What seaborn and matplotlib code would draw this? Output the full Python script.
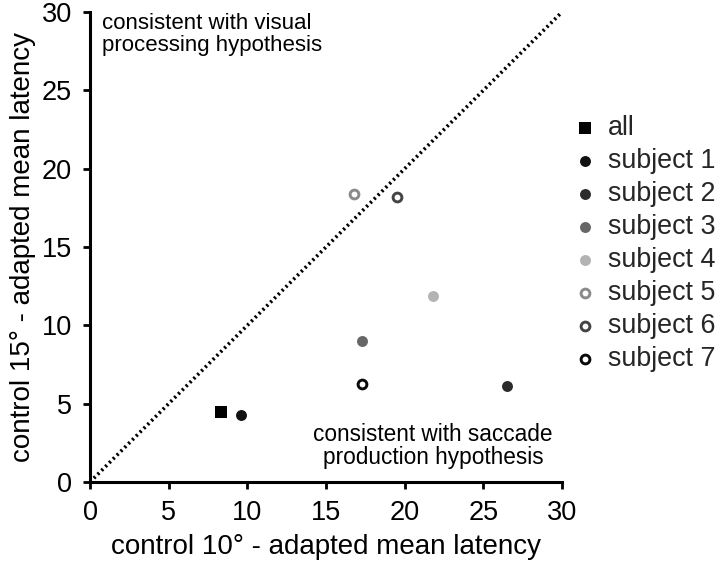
import matplotlib
matplotlib.use("Agg")
import matplotlib.pyplot as plt
import seaborn as sns
import pandas as pd

sns.set_theme(style="ticks")
plt.rcParams["font.family"] = ["Liberation Sans", "DejaVu Sans"]

labels = ["all", "subject 1", "subject 2", "subject 3", "subject 4",
          "subject 5", "subject 6", "subject 7"]
x_vals = [8.3, 9.6, 26.5, 17.3, 21.8, 16.8, 19.5, 17.3]
y_vals = [4.45, 4.25, 6.1, 9.0, 11.85, 18.4, 18.2, 6.25]
colors = ["#000000", "#111111", "#2b2b2b", "#666666", "#b3b3b3",
          "#8a8a8a", "#444444", "#0a0a0a"]
filled = [True, True, True, True, True, False, False, False]
markers = ["s", "o", "o", "o", "o", "o", "o", "o"]

diag = [0, 30]
ticks = [0, 5, 10, 15, 20, 25, 30]

df = pd.DataFrame({"x": x_vals, "y": y_vals, "label": labels})

fig = plt.figure(figsize=(7.2, 5.66), dpi=100)
ax = fig.add_axes([0.125, 0.1484, 0.6556, 0.8304])

sns.lineplot(x=diag, y=diag, ax=ax, color="black", linestyle=(0, (0.6, 0.9)),
             linewidth=2.6, legend=False)

for i, row in df.iterrows():
    if filled[i]:
        sns.scatterplot(data=df.iloc[[i]], x="x", y="y", ax=ax, marker=markers[i],
                        s=62 if markers[i] == "o" else 72, color=colors[i],
                        edgecolor=colors[i], linewidth=0, label=row["label"], zorder=3)
    else:
        sns.scatterplot(data=df.iloc[[i]], x="x", y="y", ax=ax, marker="o",
                        s=40, facecolor="white", edgecolor=colors[i],
                        linewidth=2.1, label=row["label"], zorder=3)

ax.set_xlim(0, 30)
ax.set_ylim(0, 30)
ax.set_xticks(ticks)
ax.set_yticks(ticks)
ax.tick_params(axis="both", labelsize=19.5, width=2, length=5, direction="out",
               color="black", labelcolor="black", pad=8)
for sp in ["left", "bottom"]:
    ax.spines[sp].set_linewidth(2.2)
    ax.spines[sp].set_color("black")
sns.despine(ax=ax)

ax.set_xlabel("control 10° - adapted mean latency", fontsize=20, labelpad=6, color="black")
ax.set_ylabel("control 15° - adapted mean latency", fontsize=20, labelpad=4, color="black")

ax.text(0.75, 29.95, "consistent with visual\nprocessing hypothesis", fontsize=16,
        ha="left", va="top", linespacing=1.05, color="black")
ax.text(21.8, 0.8, "consistent with saccade\nproduction hypothesis", fontsize=16.3,
        ha="center", va="bottom", linespacing=1.05, color="black")

if ax.get_legend():
    ax.get_legend().remove()
handles, hlabels = ax.get_legend_handles_labels()
fig.legend(handles, hlabels, loc="upper left", bbox_to_anchor=(0.798, 0.797),
           frameon=False, fontsize=19.4, handlelength=0.8, handletextpad=0.45,
           labelspacing=0.26, borderpad=0, borderaxespad=0, markerscale=1.0)

fig.savefig("out.png", dpi=100)
